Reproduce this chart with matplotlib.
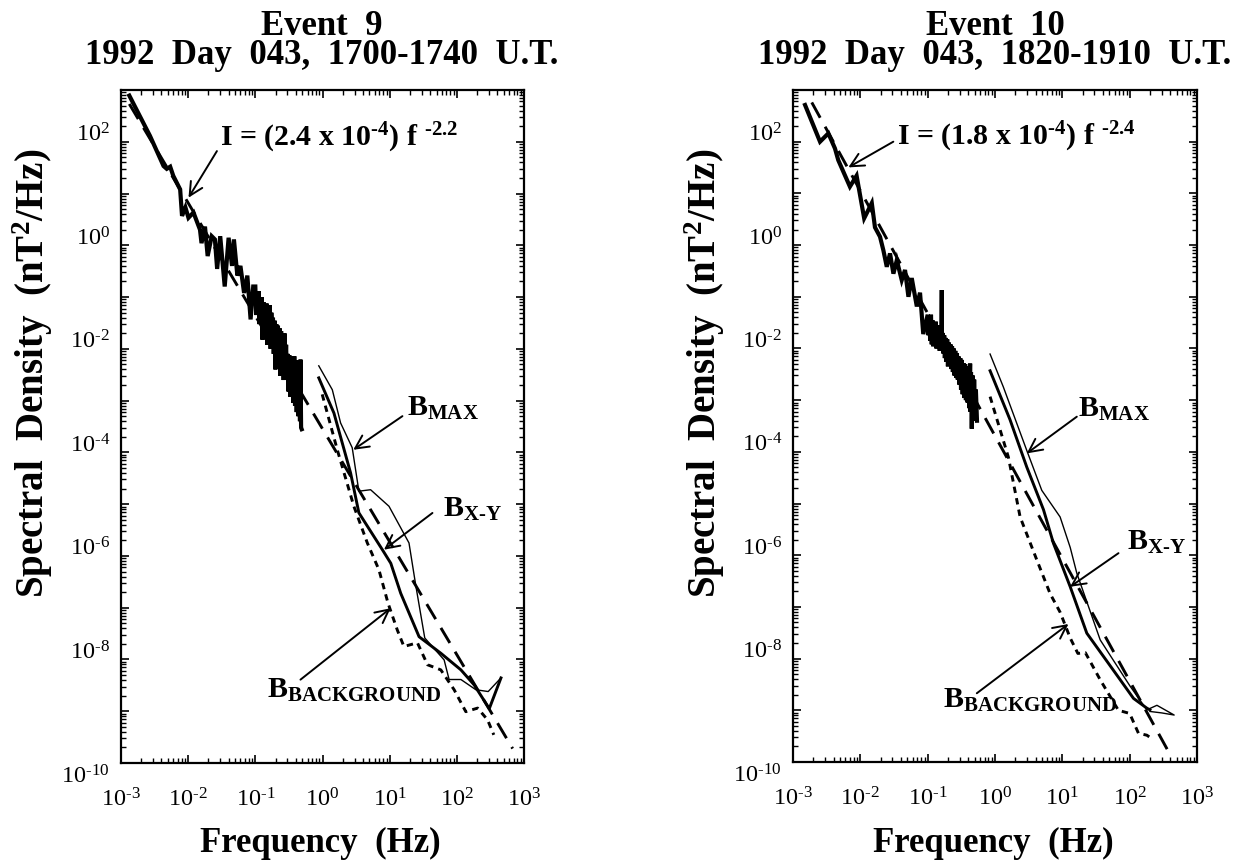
import numpy as np
import matplotlib
matplotlib.use('Agg')
import matplotlib.pyplot as plt
from matplotlib.ticker import LogLocator, NullFormatter
import matplotlib.transforms as mtransforms

plt.rcParams['font.family'] = ['Liberation Serif', 'DejaVu Serif']
plt.rcParams['mathtext.fontset'] = 'custom'
plt.rcParams['mathtext.rm'] = 'Liberation Serif'
plt.rcParams['mathtext.bf'] = 'Liberation Serif:bold'
plt.rcParams['mathtext.it'] = 'Liberation Serif:italic'
plt.rcParams['mathtext.default'] = 'rm'

HY = '\u2010'  # typographic hyphen used in the superscripts

# ---------------- Event 9 data ----------------
e9_low_f = [1.33e-3, 2.7e-3, 4.3e-3, 4.8e-3, 5.4e-3, 6.0e-3, 7.6e-3, 8.1e-3, 9.1e-3, 1.01e-2,
            1.2e-2, 1.5e-2, 1.58e-2, 1.78e-2, 1.95e-2, 2.24e-2, 2.5e-2, 2.7e-2, 3.0e-2, 3.5e-2,
            4.0e-2, 4.5e-2, 4.8e-2, 5.4e-2, 6.0e-2, 6.8e-2, 7.6e-2, 8.5e-2, 9.3e-2,
            0.100, 0.103, 0.106, 0.109, 0.112, 0.115, 0.118, 0.121, 0.125, 0.128,
            0.132, 0.135, 0.139, 0.143, 0.147, 0.151, 0.155, 0.160, 0.164, 0.169,
            0.173, 0.178, 0.183, 0.188, 0.194, 0.199, 0.205, 0.211, 0.217, 0.223,
            0.229, 0.236, 0.242, 0.249, 0.256, 0.264, 0.271, 0.279, 0.287, 0.295,
            0.303, 0.312, 0.321, 0.330, 0.339, 0.349, 0.359, 0.369, 0.380, 0.390,
            0.401, 0.413, 0.425, 0.437, 0.449, 0.462, 0.470, 0.480, 0.490]
e9_low_S = [780, 130, 34, 30, 33, 22, 12, 3.7, 5.4, 3.4,
            4.3, 2.0, 1.1, 2.3, 0.62, 1.5, 1.3, 0.35, 1.5, 0.16,
            1.4, 0.40, 1.3, 0.26, 0.40, 0.12, 0.26, 0.037, 0.16,
            0.16, 0.045, 0.11, 0.05, 0.13, 0.03, 0.09, 0.04, 0.10, 0.015,
            0.08, 0.03, 0.07, 0.02, 0.075, 0.012, 0.06, 0.025, 0.07, 0.01,
            0.05, 0.02, 0.04, 0.008, 0.035, 0.004, 0.03, 0.009, 0.028, 0.005,
            0.025, 0.003, 0.022, 0.006, 0.018, 0.0025, 0.02, 0.004, 0.012, 0.003,
            0.008, 0.0015, 0.0075, 0.0012, 0.007, 0.002, 0.0065, 0.0009, 0.0072, 0.0008,
            0.006, 0.0006, 0.0055, 0.0005, 0.006, 0.0004, 0.0062, 0.0003, 0.00028]

e9_max_f = [0.88, 1.40, 1.86, 2.77, 3.48, 5.2, 9.77, 19.4, 24.4, 33.3, 64.7, 76.7, 115, 192, 293, 454]
e9_max_S = [4.7e-3, 1.62e-3, 3.7e-4, 1.23e-4, 1.78e-5, 1.9e-5, 9.1e-6, 1.78e-6, 2.75e-7, 2.6e-8,
            9.8e-9, 4.1e-9, 4.1e-9, 2.6e-9, 2.4e-9, 4.4e-9]

e9_xy_f = [0.88, 1.48, 2.62, 3.48, 7.78, 10.4, 14.6, 27.4, 57.7, 115, 182, 304, 454]
e9_xy_S = [2.75e-3, 5.75e-4, 4.0e-5, 6.8e-6, 1.32e-6, 7.2e-7, 1.9e-7, 2.75e-8, 1.32e-8, 6.3e-9,
           3.2e-9, 1.12e-9, 4.4e-9]

e9_bg_f = [0.99, 1.66, 2.93, 4.65, 6.92, 9.44, 13.0, 16.3, 25.9, 36.6, 57.7, 91.2, 136, 204, 287, 355]
e9_bg_S = [1.32e-3, 1.12e-4, 9.1e-6, 1.78e-6, 5.4e-7, 1.23e-7, 3.7e-8, 1.78e-8, 2.1e-8, 7.9e-9,
           6.3e-9, 2.6e-9, 9.8e-10, 1.15e-9, 6.8e-10, 3.5e-10]

e9_fit_f = [1.33e-3, 678]
e9_fit_S = [537, 1.9e-10]

# ---------------- Event 10 data ----------------
e10_low_f = [1.51e-3, 2.52e-3, 3.35e-3, 4.2e-3, 4.7e-3, 7.0e-3, 8.8e-3, 9.9e-3, 1.14e-2, 1.48e-2,
             1.65e-2, 1.96e-2, 2.2e-2, 2.47e-2, 2.76e-2, 3.1e-2, 3.48e-2, 4.12e-2, 4.61e-2, 5.18e-2,
             5.8e-2, 6.9e-2, 7.7e-2, 8.6e-2,
             0.100, 0.103, 0.106, 0.109, 0.112, 0.115, 0.118, 0.121, 0.125, 0.128,
             0.132, 0.135, 0.139, 0.143, 0.147, 0.151, 0.155, 0.160, 0.162, 0.163,
             0.167, 0.171, 0.176, 0.180, 0.185, 0.190, 0.195, 0.200, 0.206, 0.212,
             0.218, 0.224, 0.230, 0.237, 0.243, 0.250, 0.257, 0.265, 0.272, 0.280,
             0.288, 0.296, 0.305, 0.313, 0.322, 0.331, 0.340, 0.350, 0.360, 0.370,
             0.381, 0.392, 0.403, 0.415, 0.427, 0.430, 0.440, 0.452, 0.465, 0.478,
             0.490, 0.505, 0.520, 0.540]
e10_low_S = [513, 100, 145, 74, 44, 13.5, 22, 9.3, 3.3, 6.5,
             2.2, 1.45, 0.79, 0.38, 0.69, 0.28, 0.51, 0.21, 0.33, 0.10,
             0.23, 0.065, 0.12, 0.019,
             0.045, 0.018, 0.04, 0.014, 0.045, 0.012, 0.035, 0.011, 0.03, 0.013,
             0.033, 0.010, 0.028, 0.011, 0.025, 0.009, 0.026, 0.010, 0.135, 0.010,
             0.02, 0.008, 0.018, 0.0065, 0.016, 0.0055, 0.015, 0.0045, 0.013, 0.005,
             0.012, 0.004, 0.011, 0.0035, 0.010, 0.003, 0.009, 0.0027, 0.008, 0.0025,
             0.007, 0.002, 0.0065, 0.0016, 0.006, 0.0013, 0.0052, 0.0011, 0.005, 0.001,
             0.0045, 0.0009, 0.004, 0.0007, 0.0051, 0.0006, 0.0035, 0.00028, 0.003, 0.0004,
             0.0025, 0.0005, 0.0016, 0.0004]

e10_max_f = [0.845, 1.33, 2.96, 4.95, 9.27, 13.1, 16.4, 36.5, 102, 180, 254, 458, 300, 200]
e10_max_S = [7.8e-3, 1.8e-3, 1.07e-4, 1.8e-5, 5.5e-6, 1.41e-6, 4.5e-7, 2.3e-8, 2.9e-9, 1.02e-9,
             1.25e-9, 8.1e-10, 8.9e-10, 9.5e-10]

e10_xy_f = [0.845, 1.67, 2.96, 5.25, 7.38, 13.1, 23.1, 40.9, 72.3, 114, 180, 200]
e10_xy_S = [3.7e-3, 4.2e-4, 5.1e-5, 7.6e-6, 1.7e-6, 2.45e-7, 3.1e-8, 1.1e-8, 3.9e-9, 1.7e-9,
            1.1e-9, 1.02e-9]

e10_bg_f = [0.845, 1.58, 2.36, 4.18, 6.59, 9.27, 13.1, 17.0, 22.0, 36.5, 68, 100, 135, 180, 200]
e10_bg_S = [1.17e-3, 7.9e-5, 5.5e-6, 8.1e-7, 1.8e-7, 7.9e-8, 2.5e-8, 1.26e-8, 1.3e-8, 3.9e-9,
            1.0e-9, 8.7e-10, 3.6e-10, 3.3e-10, 3.0e-10]

e10_fit_f = [1.9e-3, 378]
e10_fit_S = [575, 1.58e-10]

titles = ["Event  9\n1992  Day  043,  1700-1740  U.T.",
          "Event  10\n1992  Day  043,  1820-1910  U.T."]
fit_labels = [r"I = (2.4 x 10$^{\mathbf{%s4}}$) f $^{\mathbf{%s2.2}}$" % (HY, HY),
              r"I = (1.8 x 10$^{\mathbf{%s4}}$) f $^{\mathbf{%s2.4}}$" % (HY, HY)]
comp_labels = [r'$\mathbf{B}_{\mathbf{MAX}}$', r'$\mathbf{B}_{\mathbf{X%sY}}$' % HY,
               r'$\mathbf{B}_{\mathbf{BACKGROUND}}$']
xlabel = "Frequency  (Hz)"
ylabel = r"Spectral  Density  (nT$^{\mathbf{2}}$/Hz)"
ytick_exps = list(range(-10, 4))
xtick_exps = list(range(-3, 4))

def exp_label(e):
    return r'$10^{%s%d}$' % (HY if e < 0 else '', abs(e))

W, H = 1249, 863
fig = plt.figure(figsize=(W / 100, H / 100), dpi=100)
ax1 = fig.add_axes([121 / W, 1 - 763 / H, 403 / W, 673 / H])
ax2 = fig.add_axes([793 / W, 1 - 762 / H, 404 / W, 672 / H])

def style(ax):
    ax.set_xscale('log')
    ax.set_yscale('log')
    ax.set_xlim(1e-3, 1e3)
    ax.set_ylim(1e-10, 1e3)
    ax.set_xticks([10.0 ** e for e in xtick_exps])
    ax.set_xticklabels([exp_label(e) for e in xtick_exps])
    ax.set_yticks([10.0 ** e for e in ytick_exps])
    ax.set_yticklabels([exp_label(e) if e % 2 == 0 and e < 3 else '' for e in ytick_exps],
                       va='baseline')
    ax.xaxis.set_minor_locator(LogLocator(base=10, subs=np.arange(2, 10), numticks=100))
    ax.yaxis.set_minor_locator(LogLocator(base=10, subs=np.arange(2, 10), numticks=100))
    ax.xaxis.set_minor_formatter(NullFormatter())
    ax.yaxis.set_minor_formatter(NullFormatter())
    ax.tick_params(which='both', direction='in', top=True, right=True, labelsize=17.5)
    ax.tick_params(which='major', length=6, width=1.2)
    ax.tick_params(which='minor', length=3.5, width=1.0)
    ax.tick_params(axis='x', which='major', pad=18)
    ax.tick_params(axis='y', which='major', pad=8)
    for s in ax.spines.values():
        s.set_linewidth(1.6)
    lbl = ax.get_yticklabels()[0]
    lbl.set_transform(lbl.get_transform() +
                      mtransforms.ScaledTranslation(0, -0.20, fig.dpi_scale_trans))

def draw(ax, lf, ls, mf, ms, xf, xs, bf, bs, ff, fs):
    ax.plot(lf, ls, color='black', lw=3.0, solid_joinstyle='miter')
    ax.plot(ff, fs, color='black', lw=2.1, dashes=(6, 3.5))
    ax.plot(bf, bs, color='black', lw=2.1, dashes=(2.2, 1.8))
    ax.plot(mf, ms, color='black', lw=1.0)
    ax.plot(xf, xs, color='black', lw=2.1)

style(ax1)
style(ax2)
draw(ax1, e9_low_f, e9_low_S, e9_max_f, e9_max_S, e9_xy_f, e9_xy_S, e9_bg_f, e9_bg_S, e9_fit_f, e9_fit_S)
draw(ax2, e10_low_f, e10_low_S, e10_max_f, e10_max_S, e10_xy_f, e10_xy_S, e10_bg_f, e10_bg_S, e10_fit_f, e10_fit_S)

txt = dict(fontsize=21.5, fontweight='bold', ha='left', va='baseline')
arr = dict(arrowstyle='->', lw=1.4, color='black', shrinkA=0, shrinkB=0, mutation_scale=24)

# annotation layout: (text pos, arrow tail, arrow tip) as log10 positions
ann9 = [((-1.522, 1.92), (-1.572, 1.82), (-1.995, 0.92)),
        ((1.264, -3.30), (1.19, -3.30), (0.458, -3.95)),
        ((1.787, -5.24), (1.637, -5.17), (0.915, -5.88)),
        ((-0.825, -8.75), (-0.328, -8.39), (1.015, -7.01))]
ann10 = [((-1.459, 1.934), (-1.51, 2.0), (-2.178, 1.503)),
         ((1.239, -3.32), (1.215, -3.32), (0.472, -4.03)),
         ((1.958, -5.90), (1.834, -5.96), (1.116, -6.61)),
         ((-0.767, -8.96), (-0.270, -8.67), (1.091, -7.33))]

for ax, ann, fl in [(ax1, ann9, fit_labels[0]), (ax2, ann10, fit_labels[1])]:
    for (tp, tail, tip), lab in zip(ann, [fl] + comp_labels):
        ax.annotate('', xy=(10 ** tip[0], 10 ** tip[1]), xytext=(10 ** tail[0], 10 ** tail[1]),
                    arrowprops=arr)
        ax.text(10 ** tp[0], 10 ** tp[1], lab, **txt)

# titles and axis labels (figure pixel positions)
def ftext(x, y, s, **kw):
    fig.text(x / W, 1 - y / H, s, fontweight='bold', **kw)

ftext(322, 10, titles[0], fontsize=25, ha='center', va='top', multialignment='center',
      linespacing=0.86)
ftext(995, 10, titles[1], fontsize=25, ha='center', va='top', multialignment='center',
      linespacing=0.86)
ftext(320, 852, xlabel, fontsize=25, ha='center', va='baseline')
ftext(993, 852, xlabel, fontsize=25, ha='center', va='baseline')
ftext(33, 373, ylabel, fontsize=28, ha='center', va='center', rotation=90)
ftext(705, 373, ylabel, fontsize=28, ha='center', va='center', rotation=90)

fig.savefig('out.png', dpi=100)
